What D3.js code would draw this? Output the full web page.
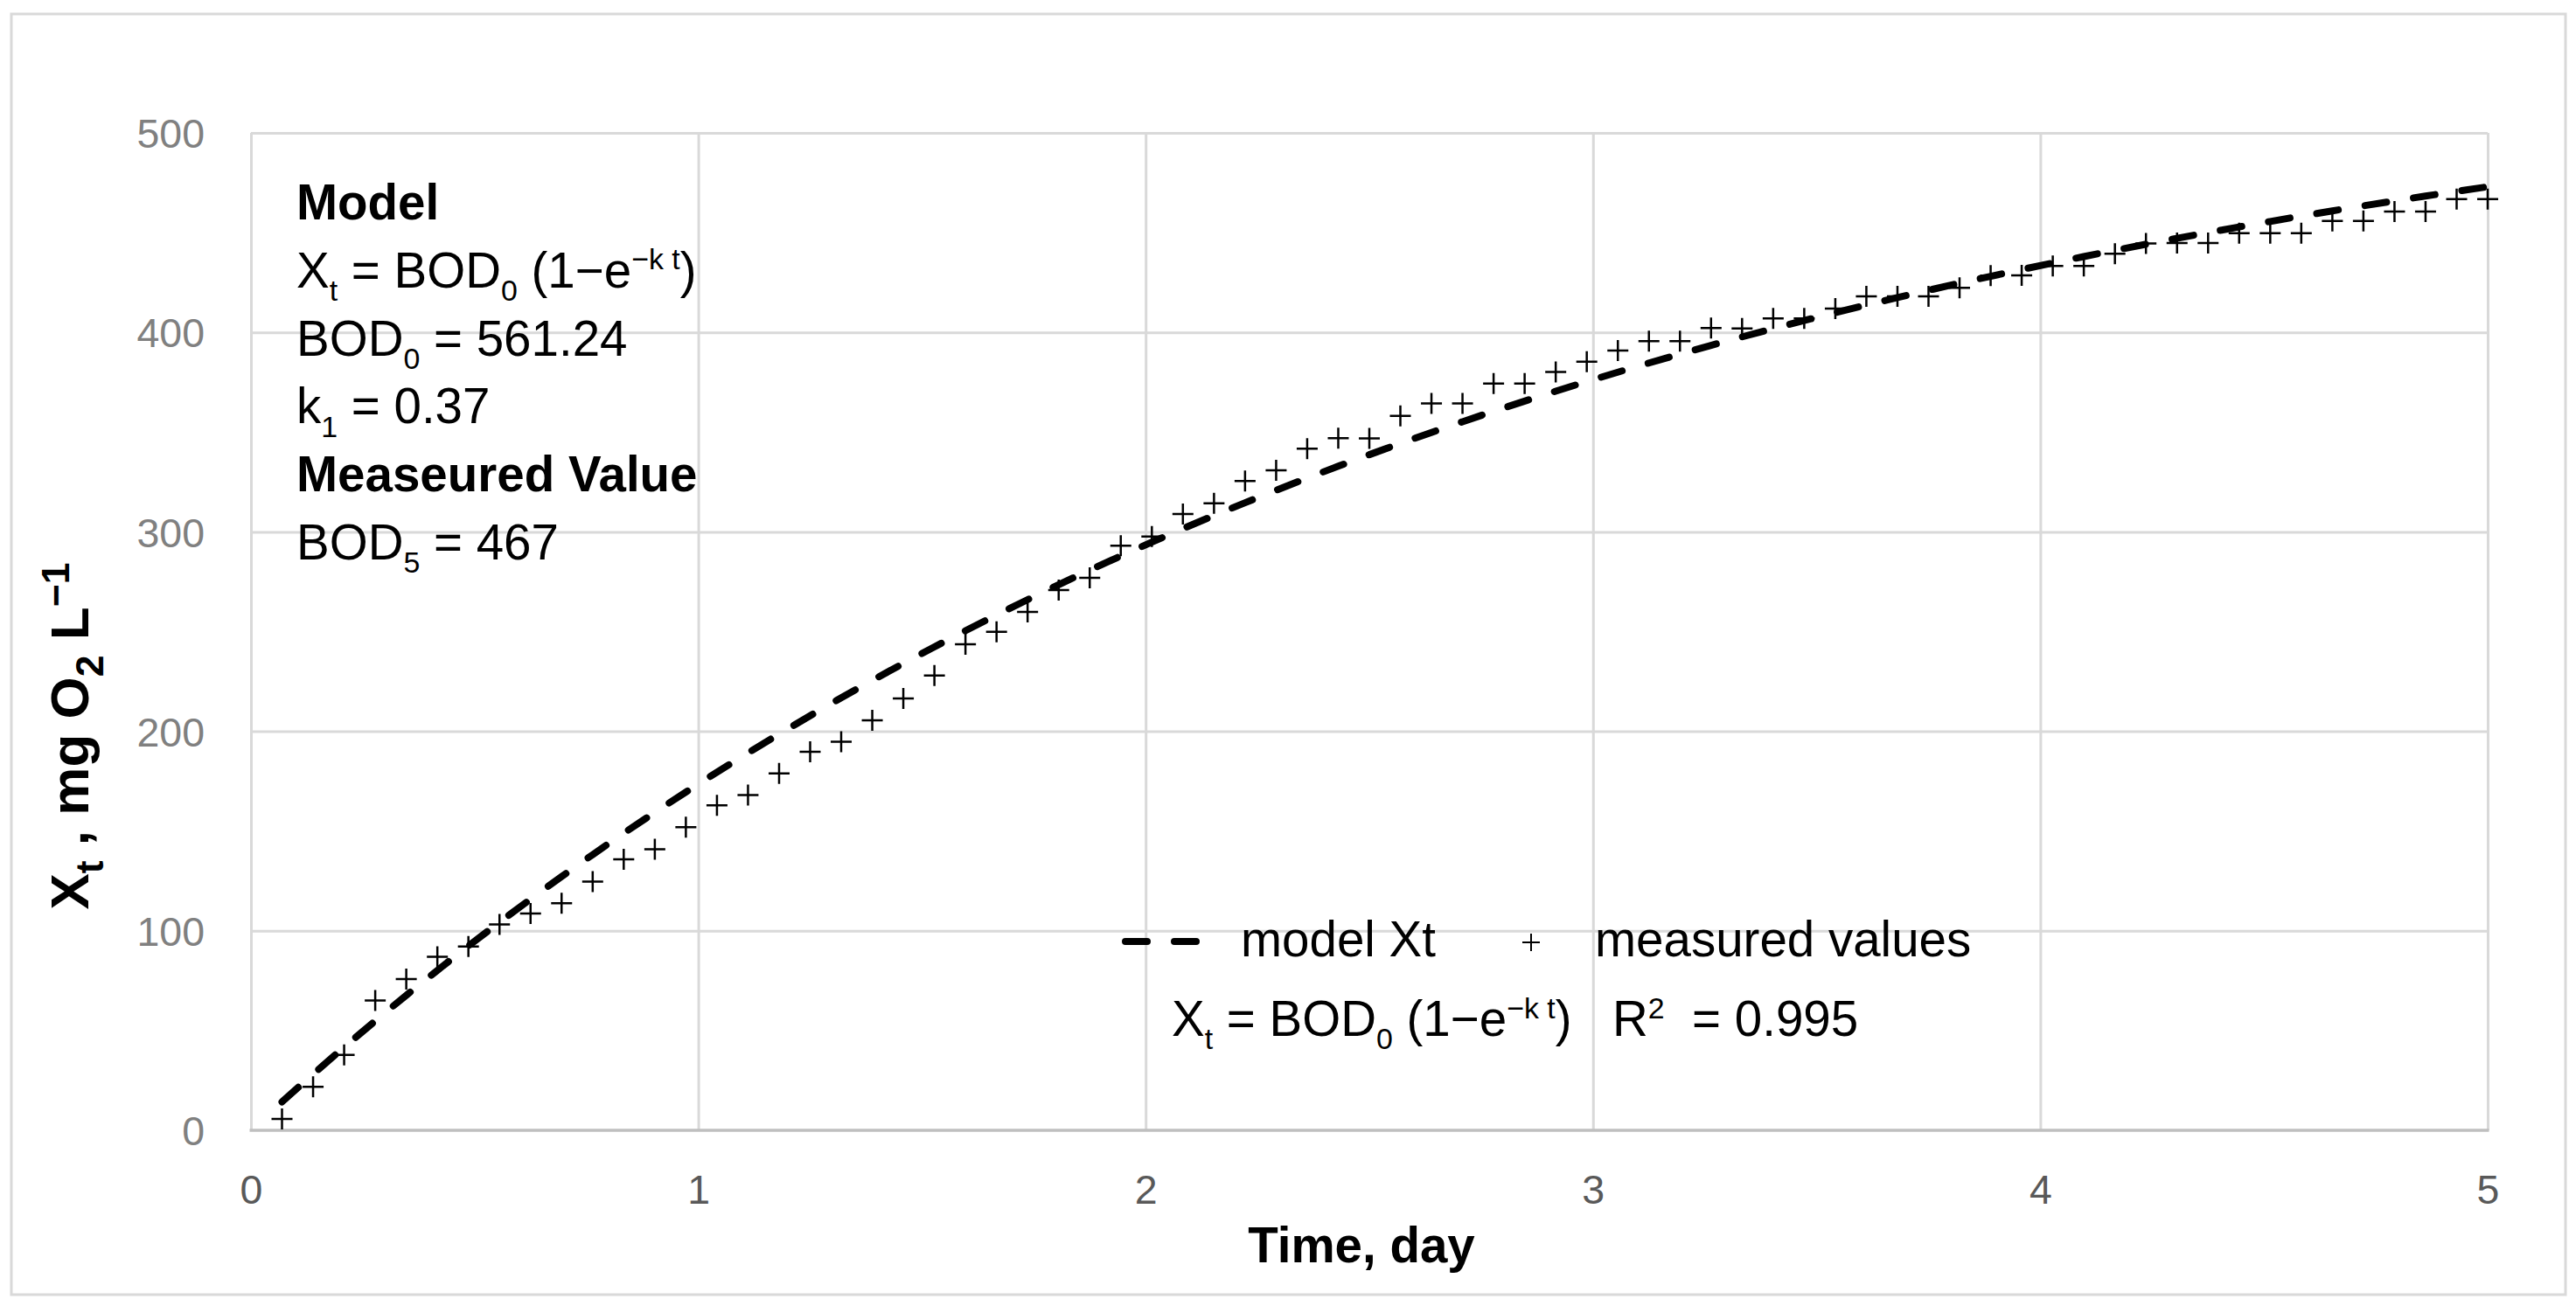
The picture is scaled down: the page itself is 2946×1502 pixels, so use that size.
<!DOCTYPE html>
<html>
<head>
<meta charset="utf-8">
<script src="https://cdn.jsdelivr.net/npm/d3@7/dist/d3.min.js"></script>
<style>
  html, body { margin: 0; padding: 0; background: #ffffff; }
  svg { display: block; }
  text { white-space: pre; }
</style>
</head>
<body>
<svg id="chart" width="2946" height="1502"></svg>
<script>
// ---- data ----
const timeDays = [0.0694, 0.1389, 0.2083, 0.2778, 0.3472, 0.4167, 0.4861, 0.5556, 0.625, 0.6944,
  0.7639, 0.8333, 0.9028, 0.9722, 1.0417, 1.1111, 1.1806, 1.25, 1.3194, 1.3889,
  1.4583, 1.5278, 1.5972, 1.6667, 1.7361, 1.8056, 1.875, 1.9444, 2.0139, 2.0833,
  2.1528, 2.2222, 2.2917, 2.3611, 2.4306, 2.5, 2.5694, 2.6389, 2.7083, 2.7778,
  2.8472, 2.9167, 2.9861, 3.0556, 3.125, 3.1944, 3.2639, 3.3333, 3.4028, 3.4722,
  3.5417, 3.6111, 3.6806, 3.75, 3.8194, 3.8889, 3.9583, 4.0278, 4.0972, 4.1667,
  4.2361, 4.3056, 4.375, 4.4444, 4.5139, 4.5833, 4.6528, 4.7222, 4.7917, 4.8611,
  4.9306, 5.0];

const measuredValues = [5.7, 21.8, 37.8, 65.1, 75.8, 87, 92.1, 103.2, 108.7, 113.8,
  124.7, 135.8, 140.9, 152, 162.9, 168.1, 178.9, 189.8, 194.8, 205.5,
  216.5, 228, 243.7, 249.9, 259.9, 270.8, 277, 293, 297.7, 308.9,
  314.3, 325.5, 330.8, 341.7, 346.9, 346.8, 358.1, 364.4, 364.4, 374.3,
  374.3, 380.1, 385.3, 390.9, 395.6, 395.6, 402.2, 401.9, 407, 407,
  411.9, 418.1, 418.1, 418.1, 422.3, 428.5, 428.6, 433.3, 433.3, 439.4,
  444.6, 444.8, 444.8, 449.7, 449.7, 449.7, 455.8, 455.8, 460.6, 460.6,
  466.8, 466.8];

const modelValues = [14.24, 28.11, 41.64, 54.82, 67.66, 80.18, 92.39, 104.28, 115.87, 127.17,
  138.18, 148.91, 159.37, 169.57, 179.50, 189.19, 198.63, 207.82, 216.79, 225.52,
  234.04, 242.34, 250.43, 258.31, 266.00, 273.49, 280.79, 287.90, 294.83, 301.60,
  308.18, 314.60, 320.86, 326.95, 332.90, 338.69, 344.34, 349.84, 355.20, 360.43,
  365.52, 370.49, 375.33, 380.04, 384.64, 389.12, 393.48, 397.74, 401.89, 405.93,
  409.87, 413.71, 417.45, 421.10, 424.65, 428.11, 431.49, 434.79, 438.00, 441.12,
  444.17, 447.14, 450.03, 452.85, 455.60, 458.28, 460.89, 463.44, 465.92, 468.34,
  470.69, 472.99];

const xTicks = [0, 1, 2, 3, 4, 5];
const yTicks = [0, 100, 200, 300, 400, 500];
const xTitle = "Time, day";
const legendModel = "model Xt";
const legendMeasured = "measured values";
const r2Value = "0.995";

// ---- layout ----
const FONT = "'Liberation Sans', Arial, sans-serif";
const FS = 56.5;      // main text size
const TFS = 46.5;     // tick label size
const plot = { left: 287, right: 2845, top: 152, bottom: 1293 };

const svg = d3.select("#chart");
svg.append("rect").attr("x", 0).attr("y", 0).attr("width", 2946).attr("height", 1502).attr("fill", "#ffffff");
svg.append("rect").attr("x", 13).attr("y", 16).attr("width", 2921).attr("height", 1465)
  .attr("fill", "none").attr("stroke", "#d9d9d9").attr("stroke-width", 3);

const x = d3.scaleLinear().domain([0, 5]).range([plot.left, plot.right]);
const y = d3.scaleLinear().domain([0, 500]).range([plot.bottom, plot.top]);

// gridlines
const gridY = svg.append("g").attr("transform", `translate(${plot.left},0)`)
  .call(d3.axisLeft(y).tickValues(yTicks.filter(v => v > 0)).tickSize(-(plot.right - plot.left)).tickFormat(""));
gridY.select(".domain").remove();
gridY.selectAll("line").attr("stroke", "#d9d9d9").attr("stroke-width", 3);

const gridX = svg.append("g").attr("transform", `translate(0,${plot.bottom})`)
  .call(d3.axisBottom(x).tickValues(xTicks).tickSize(-(plot.bottom - plot.top)).tickFormat(""));
gridX.select(".domain").remove();
gridX.selectAll("line").attr("stroke", "#d9d9d9").attr("stroke-width", 3);

// x axis line
svg.append("line").attr("x1", plot.left - 1.5).attr("x2", plot.right + 1.5)
  .attr("y1", y(0)).attr("y2", y(0)).attr("stroke", "#bfbfbf").attr("stroke-width", 3.5);

// tick labels
const yAxis = svg.append("g").attr("transform", `translate(${plot.left},0)`)
  .call(d3.axisLeft(y).tickValues(yTicks).tickSize(0).tickPadding(53).tickFormat(d3.format("d")));
yAxis.select(".domain").remove();
yAxis.selectAll("text").attr("font-family", FONT).attr("font-size", TFS).attr("fill", "#808080").attr("dy", "0.36em");

const xAxis = svg.append("g").attr("transform", `translate(0,${plot.bottom})`)
  .call(d3.axisBottom(x).tickValues(xTicks).tickSize(0).tickFormat(d3.format("d")));
xAxis.select(".domain").remove();
xAxis.selectAll("text").attr("font-family", FONT).attr("font-size", TFS).attr("fill", "#595959")
  .attr("y", 84).attr("dy", 0);

// model line
const line = d3.line().x((d, i) => x(timeDays[i])).y(d => y(d)).curve(d3.curveMonotoneX);
svg.append("path").datum(modelValues).attr("d", line).attr("fill", "none")
  .attr("stroke", "#000").attr("stroke-width", 8).attr("stroke-linecap", "round")
  .attr("stroke-dasharray", "25,31");

// measured markers
const plus = "M-12,0H12M0,-12V12";
svg.append("g").selectAll("path").data(measuredValues).join("path")
  .attr("transform", (d, i) => `translate(${x(timeDays[i])},${y(d)})`)
  .attr("d", plus).attr("stroke", "#000").attr("stroke-width", 2.5).attr("fill", "none");

// rich text helper: parts = [[text, mode]] mode: "", "sub", "sup"
function rich(sel, parts, fs, scale) {
  const sc = scale || 0.6;
  let shift = 0;
  parts.forEach(([t, mode]) => {
    const target = mode === "sub" ? 0.27 * fs : mode === "sup" ? -0.36 * fs : 0;
    const ts = sel.append("tspan").text(t).attr("dy", target - shift);
    if (mode) ts.attr("font-size", fs * sc);
    shift = target;
  });
}

// annotation block
const ann = [
  { parts: [["Model", ""]], bold: true },
  { parts: [["X", ""], ["t", "sub"], [" = BOD", ""], ["0", "sub"], [" (1\u2212e", ""], ["\u2212k t", "sup"], [")", ""]] },
  { parts: [["BOD", ""], ["0", "sub"], [" = 561.24", ""]] },
  { parts: [["k", ""], ["1", "sub"], [" = 0.37", ""]] },
  { parts: [["Measeured Value", ""]], bold: true },
  { parts: [["BOD", ""], ["5", "sub"], [" = 467", ""]] }
];
ann.forEach((a, i) => {
  const t = svg.append("text").attr("x", 339).attr("y", 251 + i * 77.8)
    .attr("font-family", FONT).attr("font-size", FS).attr("fill", "#000")
    .attr("font-weight", a.bold ? "bold" : "normal");
  rich(t, a.parts, FS);
});

// legend
svg.append("line").attr("x1", 1287).attr("x2", 1370).attr("y1", 1077).attr("y2", 1077)
  .attr("stroke", "#000").attr("stroke-width", 8).attr("stroke-linecap", "round").attr("stroke-dasharray", "25,31");
svg.append("text").attr("x", 1419).attr("y", 1094).attr("font-family", FONT).attr("font-size", FS)
  .attr("fill", "#000").text(legendModel);
svg.append("path").attr("transform", "translate(1751,1078)").attr("d", "M-10,0H10M0,-10V10")
  .attr("stroke", "#000").attr("stroke-width", 2).attr("fill", "none");
svg.append("text").attr("x", 1824).attr("y", 1094).attr("font-family", FONT).attr("font-size", FS)
  .attr("fill", "#000").text(legendMeasured);

const eq = svg.append("text").attr("x", 1340).attr("y", 1185).attr("font-family", FONT).attr("font-size", FS).attr("fill", "#000");
rich(eq, [["X", ""], ["t", "sub"], [" = BOD", ""], ["0", "sub"], [" (1\u2212e", ""], ["\u2212k t", "sup"], [")", ""]], FS);
const r2 = svg.append("text").attr("x", 1844).attr("y", 1185).attr("font-family", FONT).attr("font-size", FS).attr("fill", "#000");
rich(r2, [["R", ""], ["2", "sup"], ["  = " + r2Value, ""]], FS);

// axis titles
svg.append("text").attr("x", 1557).attr("y", 1444).attr("text-anchor", "middle")
  .attr("font-family", FONT).attr("font-size", FS).attr("font-weight", "bold").attr("fill", "#000").text(xTitle);

const YFS = 62;
const yt = svg.append("text").attr("transform", "translate(101,842) rotate(-90)").attr("text-anchor", "middle")
  .attr("font-family", FONT).attr("font-size", YFS).attr("font-weight", "bold").attr("fill", "#000");
rich(yt, [["X", ""], ["t", "sub"], [" , mg O", ""], ["2", "sub"], [" L", ""], ["\u22121", "sup"]], YFS, 0.72);
</script>
</body>
</html>
